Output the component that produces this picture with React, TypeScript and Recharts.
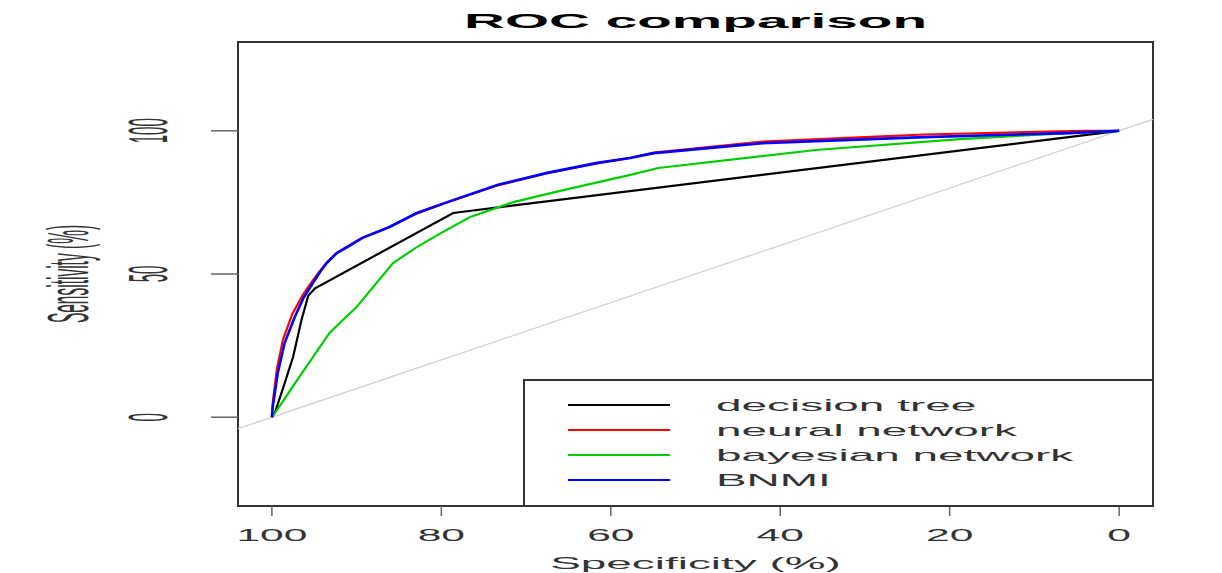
import React from 'react';
import { ComposedChart, Line, XAxis, YAxis, ReferenceLine, ReferenceArea } from 'recharts';

// ---- text ----
const TITLE = 'ROC comparison';
const X_LABEL = 'Specificity (%)';
const Y_LABEL = 'Sensitivity (%)';

// ---- axes ----
const X_TICKS = [100, 80, 60, 40, 20, 0];
const Y_TICKS = [0, 50, 100];
const X_DOMAIN: [number, number] = [-4, 104];
const Y_DOMAIN: [number, number] = [-31, 131];

// ---- series ----
const SERIES_NAMES = ['decision tree', 'neural network', 'bayesian network', 'BNMI'];
const SERIES_COLORS = ['#000000', '#ff0000', '#00cd00', '#0000ff'];

const decisionTreeSpec = [100, 99.6, 98.7, 97.5, 96.5, 95.7, 94.9, 78.6, 0];
const decisionTreeSens = [0, 2, 10, 21, 34, 42.5, 45, 71.3, 100];

const neuralNetSpec = [100, 99.9, 99.4, 98.7, 97.6, 96.4, 95.4, 94.4, 93.6, 92.5, 91.3, 89.4, 86.3, 83.0, 79.5, 73.5, 67.8, 61.6, 57.7, 54.9, 42.1, 30, 23.0, 10, 4, 0];
const neuralNetSens = [0, 5, 17, 27, 36, 42.5, 46.8, 50.8, 53.8, 57.0, 59.3, 62.6, 66.2, 71.0, 74.8, 80.8, 85.0, 88.6, 90.6, 92.4, 96.2, 97.8, 98.7, 99.6, 100, 100];

const bayesNetSpec = [100, 99.4, 97.0, 93.2, 91.6, 90.0, 85.7, 82.9, 79.8, 76.6, 71.5, 65.6, 57.7, 54.4, 35.8, 18.8, 6.0, 0];
const bayesNetSens = [0, 2.5, 13, 29.4, 34, 38.5, 53.8, 59.4, 64.7, 69.9, 75.1, 79.3, 84.6, 87.0, 93.3, 97.1, 99.2, 100];

const bnmiSpec = [100, 99.9, 99.3, 98.5, 97.3, 96.3, 95.2, 94.3, 93.5, 92.3, 91.1, 89.3, 86.1, 82.9, 79.3, 73.4, 67.5, 61.6, 57.7, 54.9, 42.1, 23.0, 6.0, 0];
const bnmiSens = [0, 3.6, 15.5, 25.9, 35, 41.5, 46.7, 50.8, 53.9, 57.4, 59.4, 62.6, 66.4, 71.3, 75.1, 81.1, 85.3, 88.8, 90.5, 92.2, 95.7, 97.8, 99.2, 100];

const build = (spec: number[], sens: number[]) => spec.map((s, i) => ({ spec: s, sens: sens[i] }));
const SERIES_DATA = [
  build(decisionTreeSpec, decisionTreeSens),
  build(neuralNetSpec, neuralNetSens),
  build(bayesNetSpec, bayesNetSens),
  build(bnmiSpec, bnmiSens),
];

const FONT = '"Liberation Sans", Arial, Helvetica, sans-serif';
const SX = 2.7; // horizontal stretch of the original picture
const SX_ROT = 3.7;

const W = 1222;
const H = 573;
const PLOT_LEFT = 238;
const PLOT_RIGHT = 1153;
const PLOT_TOP = 42;
const PLOT_BOTTOM = 506;

const XTick = (props: any) => {
  const { x, payload } = props;
  return (
    <text
      transform={`translate(${x},${541}) scale(2.5,1)`}
      textAnchor="middle"
      fontSize={17}
      fontFamily={FONT}
      fill="#333"
    >
      {payload.value}
    </text>
  );
};

const YTick = (props: any) => {
  const { y, payload } = props;
  return (
    <text
      transform={`translate(${148},${y}) scale(${SX_ROT},1) rotate(-90)`}
      textAnchor="middle"
      dominantBaseline="central"
      fontSize={15}
      fontFamily={FONT}
      fill="#333"
    >
      {payload.value}
    </text>
  );
};

const XLabel = (props: any) => {
  const vb = props.viewBox || { x: PLOT_LEFT, width: PLOT_RIGHT - PLOT_LEFT };
  const cx = vb.x + vb.width / 2;
  return (
    <text
      transform={`translate(${cx},${569}) scale(${SX},1)`}
      textAnchor="middle"
      fontSize={17}
      fontFamily={FONT}
      fill="#333"
    >
      {X_LABEL}
    </text>
  );
};

const YLabel = (props: any) => {
  const vb = props.viewBox || { y: PLOT_TOP, height: PLOT_BOTTOM - PLOT_TOP };
  const cy = vb.y + vb.height / 2;
  return (
    <text
      transform={`translate(${68},${cy}) scale(${SX_ROT},1) rotate(-90)`}
      textAnchor="middle"
      dominantBaseline="central"
      fontSize={15.5}
      fontFamily={FONT}
      fill="#333"
    >
      {Y_LABEL}
    </text>
  );
};

const LEG_LEFT = 524;
const LEG_TOP = 380;
const LEG_ROW0 = 405;
const LEG_ROW_STEP = 25;

export default function App() {
  return (
    <div style={{ position: 'absolute', left: 0, top: 0, width: W, height: H, background: '#fff' }}>
      <ComposedChart
        width={W}
        height={H}
        margin={{ top: PLOT_TOP, right: W - PLOT_RIGHT, bottom: 0, left: 0 }}
      >
        <XAxis
          type="number"
          dataKey="spec"
          domain={X_DOMAIN}
          reversed
          allowDataOverflow
          ticks={X_TICKS}
          interval={0}
          height={H - PLOT_BOTTOM}
          axisLine={false}
          tickLine={{ stroke: '#666', strokeWidth: 1.5 }}
          tickSize={10}
          tick={<XTick />}
          label={<XLabel />}
        />
        <YAxis
          type="number"
          dataKey="sens"
          domain={Y_DOMAIN}
          allowDataOverflow
          ticks={Y_TICKS}
          interval={0}
          width={PLOT_LEFT}
          axisLine={false}
          tickLine={{ stroke: '#666', strokeWidth: 1.5 }}
          tickSize={27}
          tick={<YTick />}
          label={<YLabel />}
        />
        <ReferenceLine
          segment={[{ x: 104, y: -4 }, { x: -4, y: 104 }]}
          stroke="#cfcfcf"
          strokeWidth={1.2}
          ifOverflow="visible"
        />
        {SERIES_DATA.map((d, i) => (
          <Line
            key={SERIES_NAMES[i]}
            data={d}
            dataKey="sens"
            name={SERIES_NAMES[i]}
            type="linear"
            stroke={SERIES_COLORS[i]}
            strokeWidth={i === 3 ? 2.6 : 2.2}
            dot={false}
            activeDot={false}
            isAnimationActive={false}
          />
        ))}
        <ReferenceArea
          x1={X_DOMAIN[0]}
          x2={X_DOMAIN[1]}
          y1={Y_DOMAIN[0]}
          y2={Y_DOMAIN[1]}
          fill="none"
          fillOpacity={0}
          stroke="#333"
          strokeWidth={2}
          ifOverflow="visible"
        />
      </ComposedChart>
      <svg
        width={W}
        height={H}
        style={{ position: 'absolute', left: 0, top: 0, pointerEvents: 'none' }}
      >
        <text
          transform={`translate(${(PLOT_LEFT + PLOT_RIGHT) / 2},${28}) scale(${SX},1)`}
          textAnchor="middle"
          fontSize={21}
          fontWeight="bold"
          fontFamily={FONT}
          fill="#000"
        >
          {TITLE}
        </text>
        <rect
          x={LEG_LEFT}
          y={LEG_TOP}
          width={PLOT_RIGHT - LEG_LEFT}
          height={PLOT_BOTTOM - LEG_TOP}
          fill="#fff"
          stroke="#333"
          strokeWidth={2}
        />
        {SERIES_NAMES.map((name, i) => {
          const y = LEG_ROW0 + i * LEG_ROW_STEP;
          return (
            <g key={name}>
              <line x1={568} x2={670} y1={y} y2={y} stroke={SERIES_COLORS[i]} strokeWidth={2} />
              <text
                transform={`translate(${716},${y + 6}) scale(${SX},1)`}
                fontSize={17}
                fontFamily={FONT}
                fill="#333"
              >
                {name}
              </text>
            </g>
          );
        })}
      </svg>
    </div>
  );
}
